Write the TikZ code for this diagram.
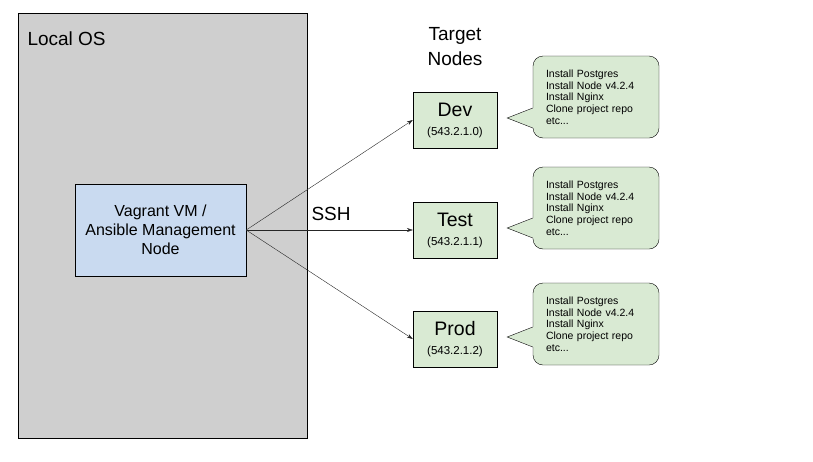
\documentclass[tikz,border=0pt]{standalone}
\usepackage{fontspec}
\setmainfont{Liberation Sans}
\usetikzlibrary{arrows.meta, positioning}
\definecolor{osgray}{RGB}{207,207,207}
\definecolor{vmblue}{RGB}{201,218,240}
\definecolor{nodegreen}{RGB}{217,234,211}

\begin{document}
\begin{tikzpicture}[x=1pt, y=-1pt,
    target/.style={draw, fill=nodegreen, minimum width=84pt, minimum height=56pt,
      inner sep=0pt, align=center, font=\fontsize{19.5}{22}\selectfont},
    note/.style={draw, fill=nodegreen, rounded corners=10pt,
      minimum width=126pt, minimum height=82pt, inner xsep=13pt, text width=100pt,
      align=left, font=\fontsize{10.5}{11.7}\selectfont},
    link/.style={-{Stealth[length=6pt,width=4pt]}, draw=black!85}]
  \useasboundingbox (0,0) rectangle (813,461);
  % local machine
  \node[draw, fill=osgray, minimum width=289pt, minimum height=425pt] (os) at (162.5,225.5) {};
  \node[anchor=west, font=\fontsize{19}{22}\selectfont] (oslabel) at (24,39) {Local OS};
  \node[draw, fill=vmblue, minimum width=171pt, minimum height=92pt, align=center,
        font=\fontsize{16}{19}\selectfont] (vm) at (160.5,230)
        {Vagrant VM /\\Ansible Management\\Node};
  % targets
  \node[align=center, font=\fontsize{19}{25}\selectfont] (title) at (455,47) {Target\\Nodes};
  \node[target] (dev) at (455,120) {Dev\\[-3pt]{\fontsize{11.5}{14}\selectfont(543.2.1.0)}};
  \node[target] (test) at (455,230) {Test\\[-3pt]{\fontsize{11.5}{14}\selectfont(543.2.1.1)}};
  \node[target] (prod) at (455,339) {Prod\\[-3pt]{\fontsize{11.5}{14}\selectfont(543.2.1.2)}};
  % what gets set up
  \foreach \n/\y in {dev/97, test/208, prod/324}{
    \node[note] (\n note) at (596,\y)
      {Install Postgres\\Install Node v4.2.4\\Install Nginx\\Clone project repo\\etc...};
    \coordinate (\n tip) at ([xshift=10pt,yshift=2pt]\n.east);
    \coordinate (\n base) at (\n note.west |- \n tip);
    \fill[nodegreen] (\n tip) -- ([xshift=1pt,yshift=10pt]\n base) -- ([xshift=1pt,yshift=-10pt]\n base) -- cycle;
    \draw ([yshift=10pt]\n base) -- (\n tip) -- ([yshift=-10pt]\n base);
  }
  % ssh connections
  \draw[link] (vm.east) -- (dev.west);
  \draw[link] (vm.east) -- (test.west);
  \draw[link] (vm.east) -- (prod.west);
  \node[anchor=west, font=\fontsize{19}{22}\selectfont] (ssh) at (308,214) {SSH};
\end{tikzpicture}
\end{document}
